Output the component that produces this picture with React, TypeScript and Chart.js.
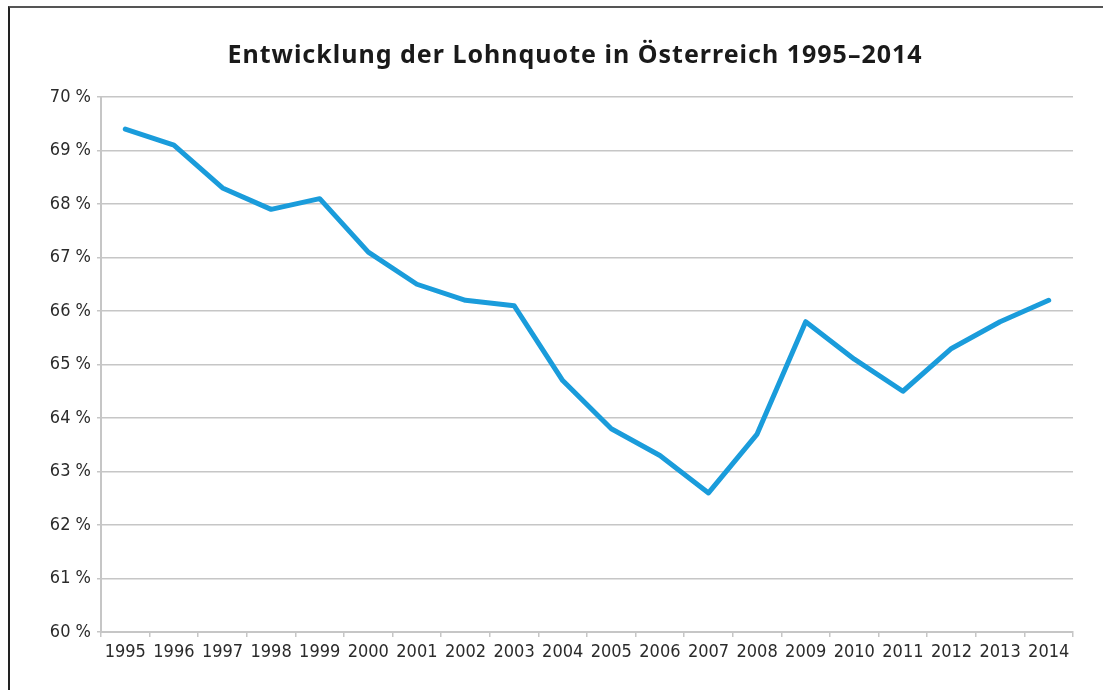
import React, { useEffect, useRef } from "react";
import { Chart, registerables } from "chart.js";

Chart.register(...registerables);

const chartTitle = "Entwicklung der Lohnquote in Österreich 1995–2014";
const years = [
  "1995", "1996", "1997", "1998", "1999", "2000", "2001", "2002", "2003", "2004",
  "2005", "2006", "2007", "2008", "2009", "2010", "2011", "2012", "2013", "2014",
];
const wageShare = [
  69.4, 69.1, 68.3, 67.9, 68.1, 67.1, 66.5, 66.2, 66.1, 64.7,
  63.8, 63.3, 62.6, 63.7, 65.8, 65.1, 64.5, 65.3, 65.8, 66.2,
];
const yMin = 60;
const yMax = 70;
const yStep = 1;
const yTickSuffix = " %";

const LABEL_FONT = '"Liberation Sans Narrow", "DejaVu Sans Condensed", "Noto Sans", sans-serif';
const TITLE_FONT = '"Noto Sans", "Open Sans", sans-serif';

const titlePlugin = {
  id: "customTitle",
  afterDraw(chart: any) {
    const ctx = chart.ctx;
    ctx.save();
    ctx.font = `bold 25px ${TITLE_FONT}`;
    try {
      (ctx as any).letterSpacing = "1px";
    } catch (e) {}
    ctx.fillStyle = "#1a1a1a";
    ctx.textAlign = "center";
    ctx.textBaseline = "alphabetic";
    ctx.fillText(chartTitle, 575, 63);
    ctx.restore();
  },
};

export default function App() {
  const ref = useRef<HTMLCanvasElement | null>(null);

  useEffect(() => {
    if (!ref.current) return;
    const chart = new Chart(ref.current, {
      type: "line",
      data: {
        labels: years,
        datasets: [
          {
            label: "Lohnquote",
            data: wageShare,
            borderColor: "#1a9cdb",
            borderWidth: 5,
            pointRadius: 0,
            pointHoverRadius: 0,
            tension: 0,
            borderJoinStyle: "round",
            borderCapStyle: "round",
            fill: false,
          },
        ],
      },
      options: {
        responsive: false,
        animation: false,
        layout: { padding: { top: 97, right: 30, bottom: 0, left: 0 } },
        plugins: {
          legend: { display: false },
          title: { display: false },
          tooltip: { enabled: false },
        },
        scales: {
          x: {
            type: "category",
            offset: true,
            afterFit: (s: any) => {
              s.height = 58;
            },
            grid: {
              offset: true,
              drawOnChartArea: false,
              drawTicks: true,
              tickLength: 5,
              color: "#c6c6c6",
              lineWidth: 1.5,
            },
            border: { display: true, color: "#c6c6c6", width: 2 },
            ticks: {
              color: "#2b2b2b",
              font: { family: LABEL_FONT, size: 18 },
              padding: 5,
              maxRotation: 0,
              autoSkip: false,
            },
          },
          y: {
            min: yMin,
            max: yMax,
            afterFit: (s: any) => {
              s.width = 101;
            },
            grid: {
              color: "#c6c6c6",
              lineWidth: 1.5,
              tickLength: 4,
            },
            border: { display: true, color: "#c6c6c6", width: 2 },
            ticks: {
              stepSize: yStep,
              color: "#2b2b2b",
              font: { family: LABEL_FONT, size: 18 },
              padding: 6,
              callback: (v: any) => `${v}${yTickSuffix}`,
            },
          },
        },
      },
      plugins: [titlePlugin],
    });
    return () => chart.destroy();
  }, []);

  return (
    <div style={{ position: "absolute", left: 0, top: 0, width: 1103, height: 690, background: "#fff", overflow: "hidden" }}>
      <div
        style={{
          position: "absolute",
          left: 8,
          top: 6,
          width: 1103,
          height: 700,
          borderTop: "2px solid #555",
          borderLeft: "2px solid #222",
        }}
      />
      <canvas ref={ref} width={1103} height={690} style={{ position: "absolute", left: 0, top: 0, width: 1103, height: 690 }} />
    </div>
  );
}
